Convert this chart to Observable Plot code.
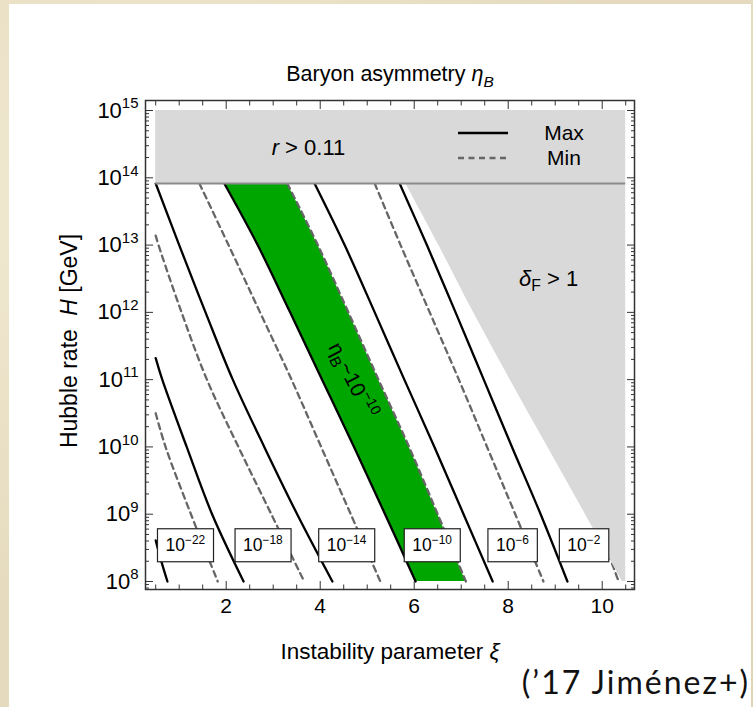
<!DOCTYPE html>
<html><head><meta charset="utf-8">
<script src="https://cdn.jsdelivr.net/npm/d3@7"></script>
<script src="https://cdn.jsdelivr.net/npm/@observablehq/plot@0.6"></script>
<style>
html,body{margin:0;padding:0;}
body{width:753px;height:707px;overflow:hidden;position:relative;
  background:#e5dabd;
  background-image:
    radial-gradient(ellipse at 20% 30%, rgba(255,250,235,0.5), rgba(0,0,0,0) 60%),
    radial-gradient(ellipse at 80% 70%, rgba(210,195,160,0.5), rgba(0,0,0,0) 60%);}
#panel{position:absolute;left:9px;top:4px;width:742px;height:703px;background:#fff;}
#chart{position:absolute;left:0;top:0;}
#caption{position:absolute;right:3px;top:662px;font-family:Lato,'Open Sans',sans-serif;font-size:32px;color:#111;letter-spacing:2px;}
</style></head>
<body>
<div id="panel"></div>
<div id="chart"></div>
<div id="caption">(’17 Jiménez+)</div>
<script>
// ---------- data ----------
// each curve: [xi, log10(H/GeV)]
const eta22Max = [[0.50, 8.61], [0.62, 8.30], [0.75, 8.00]];
const eta22Min = [[0.50, 10.50], [0.71, 10.00], [1.25, 9.00], [1.82, 8.00]];
const eta18Max = [[0.50, 11.32], [0.64, 11.00], [1.16, 10.00], [1.70, 9.00], [2.37, 8.00]];
const eta18Min = [[0.50, 13.14], [0.56, 13.00], [1.05, 12.00], [1.59, 11.00], [2.26, 10.00], [2.96, 9.00], [3.66, 8.00]];
const eta14Max = [[0.50, 13.915], [1.00, 13.00], [1.56, 12.00], [2.14, 11.00], [2.81, 10.00], [3.51, 9.00], [4.26, 8.00]];
const eta14Min = [[1.43, 13.915], [2.05, 13.00], [2.72, 12.00], [3.39, 11.00], [4.02, 10.00], [4.65, 9.00], [5.28, 8.00]];
const eta10Max = [[1.96, 13.915], [2.67, 13.00], [3.36, 12.00], [4.04, 11.00], [4.72, 10.00], [5.38, 9.00], [6.03, 8.00]];
const eta10Min = [[3.30, 13.915], [3.95, 13.00], [4.60, 12.00], [5.24, 11.00], [5.89, 10.00], [6.50, 9.00], [7.10, 8.00]];
const eta6Max  = [[3.88, 13.915], [4.52, 13.00], [5.16, 12.00], [5.79, 11.00], [6.43, 10.00], [7.05, 9.00], [7.67, 8.00]];
const eta6Min  = [[5.16, 13.915], [5.71, 13.00], [6.33, 12.00], [6.95, 11.00], [7.55, 10.00], [8.15, 9.00], [8.75, 8.00]];
const eta2Max  = [[5.69, 13.915], [6.27, 13.00], [6.88, 12.00], [7.48, 11.00], [8.08, 10.00], [8.69, 9.00], [9.26, 8.00]];
const eta2Min  = [[6.96, 13.915], [8.16, 12.00], [9.28, 10.00], [10.35, 8.00]];
// delta_F > 1 boundary
const deltaFEdge = [[5.82, 13.915], [6.52, 13.00], [7.26, 12.00], [8.04, 11.00], [8.84, 10.00], [9.64, 9.00], [10.43, 8.00]];
const xiMin = 0.5, xiMax = 10.5;
const logHr = 13.915;      // r > 0.11 bound
const logHTop = 15, logHBottom = 8;

const boxLabels = ["10^{\u221222}", "10^{\u221218}", "10^{\u221214}", "10^{\u221210}", "10^{\u22126}", "10^{\u22122}"];
const boxXi = [1.13, 2.78, 4.56, 6.38, 8.09, 9.61];
const boxLogH = 8.53;

const annoText = ["*r* > 0.11", "*\u03b4*_{F} > 1"];
const annoXi = [3.75, 8.86];
const annoLogH = [14.45, 12.5];

const bandLabel = "\u03b7_{B}~10^{\u221210}";
const bandLabelXi = 4.69, bandLabelLogH = 10.99;

const xTicks = [2, 4, 6, 8, 10];
const xMinor = [0.5, 1, 1.5, 2.5, 3, 3.5, 4.5, 5, 5.5, 6.5, 7, 7.5, 8.5, 9, 9.5, 10.5];
const yExps = [8, 9, 10, 11, 12, 13, 14, 15];
const yMinorMult = [2, 3, 4, 5, 6, 7, 8, 9];

const legendItems = ["Max", "Min"];

// ---------- tables ----------
const maxCurves = [eta22Max, eta18Max, eta14Max, eta10Max, eta6Max, eta2Max];
const minCurves = [eta22Min, eta18Min, eta14Min, eta10Min, eta6Min, eta2Min];
const toRows = (curves) => curves.flatMap((c, k) => c.map(([xi, lh]) => ({xi, H: 10 ** lh, id: k})));
const maxRows = toRows(maxCurves);
const minRows = toRows(minCurves);
const band = eta10Max.map((p, i) => ({H: 10 ** p[1], x1: p[0], x2: eta10Min[i][0]}));
const dF = deltaFEdge.map(([xi, lh]) => ({H: 10 ** lh, x1: xi, x2: xiMax}));
const yMajor = yExps.map(e => 10 ** e);
const yMinor = [7, ...yExps].flatMap(e => yMinorMult.map(m => m * 10 ** e)).filter(v => v > 10 ** 7.9 && v < 10 ** 15.1);

const GREEN = "#00a600", GRAY = "#d9d9d9", DASH = "#666666";

const plot = Plot.plot({
  width: 753, height: 707,
  marginLeft: 145, marginRight: 119, marginTop: 100, marginBottom: 118,
  style: {background: "transparent", fontFamily: "'Liberation Sans', Arial, sans-serif", fontSize: "21px", color: "#000", overflow: "visible"},
  x: {domain: [0.283, 10.687]},
  y: {type: "log", domain: [10 ** 7.881, 10 ** 15.149]},
  marks: [
    Plot.areaX(band, {y: "H", x1: "x1", x2: "x2", fill: GREEN, curve: "catmull-rom"}),
    Plot.line(minRows, {x: "xi", y: "H", z: "id", stroke: DASH, strokeWidth: 2.3, strokeDasharray: "6,4.5", curve: "catmull-rom"}),
    Plot.line(maxRows, {x: "xi", y: "H", z: "id", stroke: "#000", strokeWidth: 2.3, curve: "catmull-rom"}),
    Plot.areaX(dF, {y: "H", x1: "x1", x2: "x2", fill: GRAY, curve: "catmull-rom"}),
    Plot.rect([0], {x1: xiMin, x2: xiMax, y1: 10 ** logHr, y2: 10 ** logHTop, fill: GRAY}),
    Plot.ruleY([10 ** logHr], {x1: xiMin, x2: xiMax, stroke: "#8c8c8c", strokeWidth: 2}),
    Plot.text(annoText, {x: (d, i) => annoXi[i], y: (d, i) => 10 ** annoLogH[i], text: d => d, fontSize: 22}),
    Plot.text([bandLabel], {x: bandLabelXi, y: 10 ** bandLabelLogH, text: d => d, rotate: 63, fontSize: 21}),
    Plot.text(boxLabels, {x: (d, i) => boxXi[i], y: 10 ** boxLogH, text: d => d, fontSize: 17.5, ariaDescription: "boxlabel"}),
    // axes
    Plot.axisX({ticks: xTicks, tickSize: 0, tickPadding: 9, label: null}),
    Plot.axisX({ticks: xTicks, tickSize: 8, dy: -8, fill: "none", label: null, stroke: "#333"}),
    Plot.axisX({ticks: xMinor, tickSize: 4.5, dy: -4.5, fill: "none", label: null, stroke: "#333"}),
    Plot.axisX({anchor: "top", ticks: xTicks, tickSize: 8, dy: 8, fill: "none", label: null, stroke: "#333"}),
    Plot.axisX({anchor: "top", ticks: xMinor, tickSize: 4.5, dy: 4.5, fill: "none", label: null, stroke: "#333"}),
    Plot.axisY({ticks: yMajor, tickSize: 0, tickPadding: 7, fontSize: 22, tickFormat: d => `10^{${Math.round(Math.log10(d))}}`, label: null}),
    Plot.axisY({ticks: yMajor, tickSize: 8, dx: 8, fill: "none", label: null, stroke: "#333"}),
    Plot.axisY({ticks: yMinor, tickSize: 4, dx: 4, fill: "none", label: null, stroke: "#333"}),
    Plot.axisY({anchor: "right", ticks: yMajor, tickSize: 8, dx: -8, fill: "none", label: null, stroke: "#333"}),
    Plot.axisY({anchor: "right", ticks: yMinor, tickSize: 4, dx: -4, fill: "none", label: null, stroke: "#333"}),
    Plot.frame({stroke: "#333", strokeWidth: 1.5}),
    // titles
    Plot.text(["Baryon asymmetry *\u03b7*_[B]"], {frameAnchor: "top", dy: -26, lineAnchor: "middle", textAnchor: "middle", text: d => d, fontSize: 21.5}),
    Plot.text(["Instability parameter *\u03be*"], {frameAnchor: "bottom", dy: 62, lineAnchor: "middle", textAnchor: "middle", text: d => d, fontSize: 22.5}),
    Plot.text(["Hubble rate\u2002\u200a*H* [GeV]"], {frameAnchor: "left", dx: -76, dy: -4, rotate: -90, lineAnchor: "middle", textAnchor: "middle", text: d => d, fontSize: 23})
  ]
});

document.getElementById("chart").appendChild(plot);

// ---------- rich text (italics, sub/superscripts) ----------
const svgns = "http://www.w3.org/2000/svg";
function richify(el) {
  const s = el.textContent;
  if (!/[*_^]/.test(s)) return;
  const fs = parseFloat(getComputedStyle(el).fontSize) || 16;
  const re = /\*([^*]+)\*|_\{([^}]+)\}|_\[([^\]]+)\]|\^\{([^}]+)\}|([^*_^]+)/g;
  el.textContent = "";
  let cur = 0, m;
  while ((m = re.exec(s))) {
    let txt, shift = 0, size = null, italic = false;
    if (m[1] !== undefined) { txt = m[1]; italic = true; }
    else if (m[2] !== undefined) { txt = m[2]; shift = 0.25 * fs; size = 0.72 * fs; }
    else if (m[3] !== undefined) { txt = m[3]; shift = 0.25 * fs; size = 0.72 * fs; italic = true; }
    else if (m[4] !== undefined) { txt = m[4]; shift = -0.42 * fs; size = 0.68 * fs; }
    else txt = m[5];
    const t = document.createElementNS(svgns, "tspan");
    if (shift !== cur) t.setAttribute("dy", (shift - cur).toFixed(2));
    cur = shift;
    if (size) t.setAttribute("font-size", size.toFixed(2));
    if (italic) t.setAttribute("font-style", "italic");
    t.textContent = txt;
    el.appendChild(t);
  }
}
plot.querySelectorAll("text").forEach(richify);

// ---------- white boxes behind the eta labels ----------
plot.querySelectorAll('g[aria-description="boxlabel"] text').forEach(t => {
  const b = t.getBBox();
  const r = document.createElementNS(svgns, "rect");
  const padX = 8, h = 33, cy = b.y + b.height / 2 + 1;
  r.setAttribute("x", b.x - padX);
  r.setAttribute("y", cy - h / 2);
  r.setAttribute("width", b.width + 2 * padX);
  r.setAttribute("height", h);
  r.setAttribute("fill", "#fff");
  r.setAttribute("stroke", "#222");
  r.setAttribute("stroke-width", "1.2");
  if (t.getAttribute("transform")) r.setAttribute("transform", t.getAttribute("transform"));
  t.parentNode.insertBefore(r, t);
});

// ---------- legend (inside the r > 0.11 band) ----------
const xs = plot.scale("x"), ys = plot.scale("y");
const fr = {left: xs.range[0], right: xs.range[1], top: ys.range[1]};
const lg = d3.select(plot).append("g").attr("font-size", 21);
legendItems.forEach((name, i) => {
  const y = fr.top + 33 + i * 25;
  lg.append("line").attr("x1", fr.right - 176).attr("x2", fr.right - 126).attr("y1", y).attr("y2", y)
    .attr("stroke", i === 0 ? "#000" : DASH).attr("stroke-width", 2.3)
    .attr("stroke-dasharray", i === 0 ? null : "6,4.5");
  lg.append("text").attr("x", fr.right - 70).attr("y", y).attr("dy", "0.35em")
    .attr("text-anchor", "middle").text(name);
});
</script>
</body></html>
